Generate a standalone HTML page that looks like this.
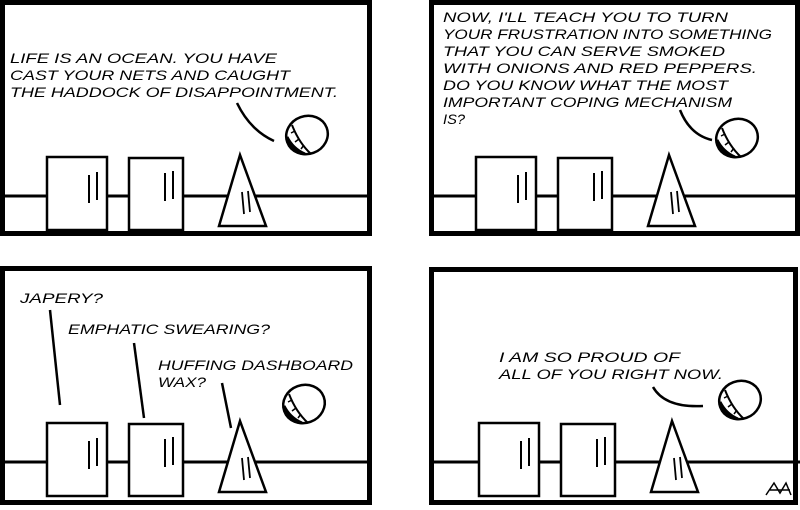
<!DOCTYPE html>
<html><head><meta charset="utf-8"><style>
body{margin:0;background:#fff;width:800px;height:505px;overflow:hidden}
svg text{font-family:"Liberation Sans",sans-serif;font-style:italic;font-size:14px;fill:#000}
</style></head><body>
<svg width="800" height="505" viewBox="0 0 800 505" xmlns="http://www.w3.org/2000/svg">
<defs>
<g id="scene" fill="none" stroke="#000" stroke-width="2.5">
 <line x1="0" y1="196" x2="370" y2="196" stroke-width="3"/>
 <rect x="47" y="157" width="60" height="73" fill="#fff"/>
 <rect x="129" y="158" width="54" height="72" fill="#fff"/>
 <line x1="89" y1="175" x2="89" y2="203" stroke-width="2"/><line x1="97" y1="172" x2="97" y2="200" stroke-width="2"/>
 <line x1="165" y1="173" x2="165" y2="201" stroke-width="2"/><line x1="173" y1="171" x2="173" y2="199" stroke-width="2"/>
 <polygon points="240,155 219,226 266,226" fill="#fff"/>
 <line x1="242" y1="192" x2="244" y2="214" stroke-width="1.8"/><line x1="248" y1="191" x2="250" y2="212" stroke-width="1.8"/>
</g>
<g id="eye">
 <ellipse cx="0" cy="0" rx="21" ry="19" transform="rotate(-20)" fill="#fff" stroke="#000" stroke-width="2.5"/>
 <path d="M-20,2 A20,19 0 0,0 -2,19 Q-14,14 -20,2 Z" fill="#000" stroke="#000" stroke-width="3"/>
 <path d="M-15,-10 Q-8,8 4,19" fill="none" stroke="#000" stroke-width="2"/>
 <path d="M-12,-4 l-4,2 M-8,4 l-4,3 M-3,10 l-3,4" stroke="#000" stroke-width="1.5"/>
</g>
</defs>
<g fill="none" stroke="#000" stroke-width="5">
 <rect x="2.5" y="2.5" width="367" height="231"/>
 <rect x="431.5" y="2.5" width="366" height="231"/>
 <rect x="2.5" y="268.5" width="367" height="234"/>
 <rect x="431.5" y="269.5" width="364" height="233"/>
</g>
<use href="#scene"/>
<use href="#scene" transform="translate(429,0)"/>
<use href="#scene" transform="translate(0,266)"/>
<use href="#scene" transform="translate(432,266)"/>
<!-- panel 1 -->
<text x="10" y="63" textLength="267" lengthAdjust="spacingAndGlyphs">LIFE IS AN OCEAN. YOU HAVE</text>
<text x="10" y="80" textLength="280" lengthAdjust="spacingAndGlyphs">CAST YOUR NETS AND CAUGHT</text>
<text x="10" y="97" textLength="328" lengthAdjust="spacingAndGlyphs">THE HADDOCK OF DISAPPOINTMENT.</text>
<path d="M237,103 Q250,130 274,141" fill="none" stroke="#000" stroke-width="2.5"/>
<use href="#eye" transform="translate(307,135)"/>
<!-- panel 2 -->
<text x="443" y="22" textLength="285" lengthAdjust="spacingAndGlyphs">NOW, I'LL TEACH YOU TO TURN</text>
<text x="443" y="39" textLength="329" lengthAdjust="spacingAndGlyphs">YOUR FRUSTRATION INTO SOMETHING</text>
<text x="443" y="56" textLength="282" lengthAdjust="spacingAndGlyphs">THAT YOU CAN SERVE SMOKED</text>
<text x="443" y="73" textLength="314" lengthAdjust="spacingAndGlyphs">WITH ONIONS AND RED PEPPERS.</text>
<text x="443" y="90" textLength="285" lengthAdjust="spacingAndGlyphs">DO YOU KNOW WHAT THE MOST</text>
<text x="443" y="107" textLength="289" lengthAdjust="spacingAndGlyphs">IMPORTANT COPING MECHANISM</text>
<text x="443" y="124" textLength="22" lengthAdjust="spacingAndGlyphs">IS?</text>
<path d="M680,110 Q690,135 712,140" fill="none" stroke="#000" stroke-width="2.5"/>
<use href="#eye" transform="translate(737,138)"/>
<!-- panel 3 -->
<text x="20" y="303" textLength="83" lengthAdjust="spacingAndGlyphs">JAPERY?</text>
<text x="68" y="334" textLength="202" lengthAdjust="spacingAndGlyphs">EMPHATIC SWEARING?</text>
<text x="158" y="370" textLength="195" lengthAdjust="spacingAndGlyphs">HUFFING DASHBOARD</text>
<text x="158" y="387" textLength="48" lengthAdjust="spacingAndGlyphs">WAX?</text>
<line x1="50" y1="310" x2="60" y2="405" stroke="#000" stroke-width="2.5"/>
<line x1="134" y1="343" x2="144" y2="418" stroke="#000" stroke-width="2.5"/>
<line x1="222" y1="383" x2="231" y2="428" stroke="#000" stroke-width="2.5"/>
<use href="#eye" transform="translate(304,404)"/>
<!-- panel 4 -->
<text x="499" y="362" textLength="181" lengthAdjust="spacingAndGlyphs">I AM SO PROUD OF</text>
<text x="499" y="379" textLength="224" lengthAdjust="spacingAndGlyphs">ALL OF YOU RIGHT NOW.</text>
<path d="M653,387 Q665,408 703,406" fill="none" stroke="#000" stroke-width="2.5"/>
<use href="#eye" transform="translate(740,400)"/>
<path d="M766,495 l8,-12 l6,10 l6,-10 l5,12 M770,490 h20" fill="none" stroke="#000" stroke-width="1.5"/>
</svg>
</body></html>
